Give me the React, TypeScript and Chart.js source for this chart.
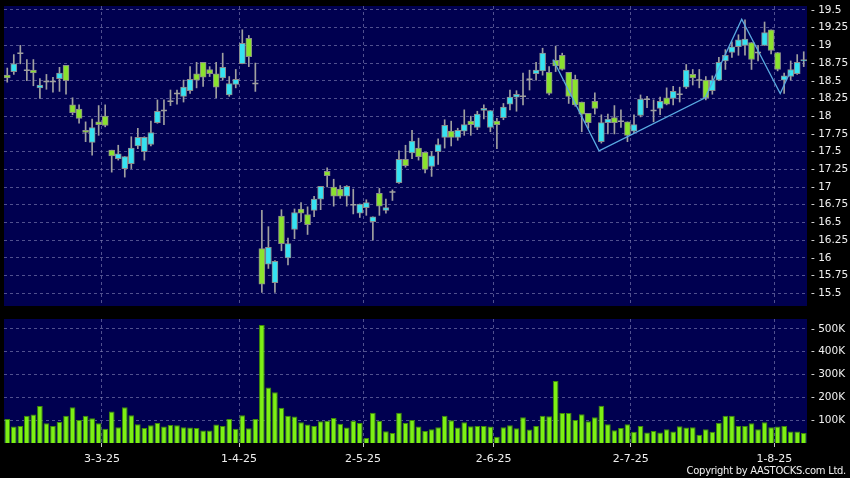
import React, { useEffect, useRef } from "react";
import { Chart, registerables } from "chart.js";

Chart.register(...registerables);

// ---------- data ----------
const dates = [
  "10-2-25","11-2-25","12-2-25","13-2-25","14-2-25","17-2-25","18-2-25","19-2-25","20-2-25","21-2-25","24-2-25","25-2-25","26-2-25","27-2-25","28-2-25",
  "3-3-25","4-3-25","5-3-25","6-3-25","7-3-25","10-3-25","11-3-25","12-3-25","13-3-25","14-3-25","17-3-25","18-3-25","19-3-25","20-3-25","21-3-25","24-3-25","25-3-25","26-3-25","27-3-25","28-3-25","31-3-25",
  "1-4-25","2-4-25","3-4-25","7-4-25","8-4-25","9-4-25","10-4-25","11-4-25","14-4-25","15-4-25","16-4-25","17-4-25","22-4-25","23-4-25","24-4-25","25-4-25","28-4-25","29-4-25","30-4-25",
  "2-5-25","6-5-25","7-5-25","8-5-25","9-5-25","12-5-25","13-5-25","14-5-25","15-5-25","16-5-25","19-5-25","20-5-25","21-5-25","22-5-25","23-5-25","26-5-25","27-5-25","28-5-25","29-5-25","30-5-25",
  "2-6-25","3-6-25","4-6-25","5-6-25","6-6-25","9-6-25","10-6-25","11-6-25","12-6-25","13-6-25","16-6-25","17-6-25","18-6-25","19-6-25","20-6-25","23-6-25","24-6-25","25-6-25","26-6-25","27-6-25","30-6-25",
  "2-7-25","3-7-25","4-7-25","7-7-25","8-7-25","9-7-25","10-7-25","11-7-25","14-7-25","15-7-25","16-7-25","17-7-25","18-7-25","21-7-25","22-7-25","23-7-25","24-7-25","25-7-25","28-7-25","29-7-25","30-7-25","31-7-25",
  "1-8-25","4-8-25","5-8-25","6-8-25","7-8-25",
];

const tickDates = ["3-3-25", "1-4-25", "2-5-25", "2-6-25", "2-7-25", "1-8-25"];

const open = [
  18.58,18.63,18.89,18.65,18.65,18.40,18.49,18.49,18.53,18.72,
  18.16,18.10,17.80,17.63,17.92,18.00,17.52,17.40,17.26,17.33,
  17.58,17.50,17.60,17.91,18.08,18.21,18.32,18.28,18.36,18.60,
  18.76,18.66,18.60,18.54,18.30,18.45,18.74,19.10,18.46,16.13,
  15.91,15.65,16.59,16.00,16.40,16.69,16.61,16.67,16.83,17.22,
  17.00,16.97,16.87,16.75,16.63,16.71,16.51,16.91,16.67,16.93,
  17.06,17.39,17.48,17.55,17.49,17.29,17.50,17.70,17.79,17.70,
  17.79,17.93,17.84,18.08,17.84,17.93,17.98,18.17,18.27,18.28,
  18.52,18.60,18.64,18.62,18.79,18.86,18.62,18.52,18.20,18.04,
  18.21,17.64,17.91,17.98,17.93,17.92,17.79,18.01,18.24,18.08,
  18.11,18.26,18.25,18.31,18.41,18.59,18.51,18.51,18.36,18.51,
  18.78,18.90,18.98,19.00,19.04,18.90,19.00,19.22,18.90,18.51,
  18.56,18.60,18.78,
];

const high = [
  18.68,18.87,19.00,18.80,18.80,18.53,18.59,18.55,18.69,18.72,
  18.26,18.16,17.92,17.96,18.15,18.16,17.52,17.59,17.43,17.71,
  17.83,17.71,17.93,18.23,18.23,18.37,18.37,18.51,18.70,18.76,
  18.76,18.70,18.76,18.89,18.56,18.66,19.22,19.14,18.75,16.67,
  16.44,15.96,16.68,16.28,16.69,16.78,16.72,16.87,17.01,17.27,
  17.11,17.02,17.02,16.97,16.76,16.82,16.58,16.98,16.83,16.96,
  17.51,17.59,17.80,17.69,17.49,17.50,17.68,17.95,17.93,17.83,
  18.09,18.00,18.07,18.16,18.08,17.97,18.18,18.37,18.36,18.61,
  18.65,18.76,18.96,18.70,18.99,18.89,18.62,18.58,18.20,18.04,
  18.33,18.02,18.03,18.15,18.09,17.92,18.02,18.30,18.28,18.23,
  18.27,18.40,18.42,18.41,18.73,18.66,18.66,18.56,18.57,18.83,
  18.94,19.05,19.15,19.36,19.04,19.00,19.33,19.22,18.90,18.61,
  18.78,18.87,18.91,
];

const low = [
  18.48,18.59,18.74,18.50,18.43,18.25,18.38,18.34,18.35,18.31,
  18.02,17.90,17.64,17.45,17.73,17.85,17.21,17.38,17.14,17.26,
  17.54,17.38,17.58,17.90,17.88,18.15,18.17,18.20,18.32,18.40,
  18.42,18.56,18.26,18.51,18.28,18.40,18.74,18.70,18.35,15.51,
  15.85,15.51,16.10,15.90,16.27,16.51,16.33,16.58,16.68,17.00,
  16.73,16.84,16.73,16.62,16.57,16.60,16.25,16.60,16.63,16.81,
  17.05,17.28,17.40,17.38,17.20,17.15,17.32,17.55,17.58,17.66,
  17.73,17.73,17.81,17.96,17.78,17.54,17.95,18.09,18.07,18.16,
  18.37,18.51,18.58,18.30,18.63,18.65,18.18,18.14,17.78,17.83,
  18.03,17.62,17.75,17.75,17.84,17.64,17.76,17.99,18.12,17.92,
  18.02,18.16,18.16,18.20,18.39,18.44,18.40,18.23,18.31,18.50,
  18.66,18.83,18.86,18.86,18.66,18.78,19.00,18.88,18.64,18.32,
  18.51,18.59,18.70,
];

const close = [
  18.54,18.74,18.89,18.65,18.61,18.44,18.49,18.49,18.61,18.50,
  18.05,17.97,17.77,17.84,17.88,17.87,17.44,17.47,17.43,17.55,
  17.70,17.70,17.77,18.07,18.08,18.21,18.32,18.41,18.52,18.51,
  18.55,18.60,18.41,18.69,18.46,18.52,19.03,18.84,18.46,15.63,
  16.15,15.95,16.20,16.20,16.64,16.63,16.47,16.83,17.01,17.16,
  16.87,16.87,17.01,16.75,16.76,16.78,16.58,16.73,16.71,16.93,
  17.39,17.30,17.65,17.43,17.25,17.44,17.60,17.87,17.70,17.80,
  17.88,17.88,18.03,18.11,18.08,17.88,18.13,18.27,18.31,18.28,
  18.52,18.65,18.89,18.32,18.71,18.66,18.28,18.16,18.03,17.91,
  18.11,17.91,17.96,17.91,17.93,17.73,17.88,18.24,18.24,18.08,
  18.21,18.17,18.35,18.31,18.65,18.54,18.51,18.26,18.51,18.76,
  18.86,18.98,19.08,19.09,18.80,18.90,19.18,18.93,18.66,18.57,
  18.66,18.76,18.80,
];

const volume = [
  105000,72000,75000,119000,125000,162000,87000,75000,92000,120000,
  157000,101000,120000,108000,87000,62000,138000,69000,157000,122000,
  82000,66000,78000,88000,72000,79000,78000,69000,68000,66000,
  55000,55000,81000,75000,105000,62000,122000,65000,105000,517000,
  243000,222000,154000,119000,116000,91000,81000,75000,95000,98000,
  110000,84000,68000,98000,88000,22000,133000,97000,52000,44000,
  133000,88000,101000,72000,53000,60000,69000,119000,100000,68000,
  91000,73000,75000,75000,72000,27000,69000,78000,65000,113000,
  59000,75000,120000,117000,272000,132000,132000,101000,126000,95000,
  113000,163000,82000,56000,66000,82000,49000,75000,46000,53000,
  46000,60000,50000,73000,68000,69000,36000,60000,49000,89000,
  119000,119000,75000,75000,87000,60000,91000,69000,72000,75000,
  50000,50000,44000,
];

// zigzag overlay: position in trading-day index units, and price
const zigzagIndex = [83.6, 90.65, 106.9, 112.5, 118.4, 119.9];
const zigzagPrice = [18.8, 17.51, 18.26, 19.37, 18.32, 18.62];

const priceMin = 15.32;
const priceMax = 19.556;
const volumeMax = 543600;
const volumeTicks = [100000, 200000, 300000, 400000, 500000];

// ---------- styles ----------
const NAVY = "#000050";
const GRID = "rgba(135,135,185,0.6)";
const CYAN = "#35e2f2";
const GREEN = "#8ae22e";
const GRAY = "#a0a0a0";
const BODY_BORDER = "#8c8c8c";
const VOL = "#7df014";
const VOL_BORDER = "#3f8c08";
const ZIG = "#58a8e0";
const TEXT = "#f0f0f0";
const FONT = "'DejaVu Sans', 'Noto Sans', sans-serif";

const isMonthStart = (i: number) => tickDates.includes(dates[i]);

const bgPlugin = {
  id: "navyArea",
  beforeDraw(chart: any) {
    const { ctx, chartArea: a } = chart;
    ctx.save();
    ctx.fillStyle = NAVY;
    ctx.fillRect(a.left, a.top, a.right - a.left, a.bottom - a.top);
    ctx.restore();
  },
};

const monthGridColor = (ctx: any) =>
  ctx.tick && isMonthStart(ctx.index) ? GRID : "transparent";
const monthTickColor = (ctx: any) =>
  ctx.tick && isMonthStart(ctx.index) ? "#c8c8c8" : "transparent";

const fitRightAxis = (s: any) => {
  s.width = 43;
  s.paddingTop = 0;
  s.paddingBottom = 0;
};

export default function App() {
  const priceRef = useRef<HTMLCanvasElement | null>(null);
  const volRef = useRef<HTMLCanvasElement | null>(null);

  useEffect(() => {
    const wicks = low.map((l, i) => [l, high[i]]);
    const bodies = open.map((o, i) => (o === close[i] ? null : [o, close[i]]));
    const bodyColors = open.map((o, i) =>
      close[i] > o ? CYAN : close[i] < o ? GREEN : GRAY
    );
    const dojis = open.map((o, i) => (o === close[i] ? close[i] : null));
    // pre-parsed points: x is the (fractional) category index on the x scale
    const zig = zigzagIndex.map((x, i) => ({ x, y: zigzagPrice[i] }));

    const priceChart = new Chart(priceRef.current as HTMLCanvasElement, {
      type: "bar",
      data: {
        labels: dates,
        datasets: [
          {
            type: "bar",
            data: wicks as any,
            backgroundColor: GRAY,
            borderWidth: 0,
            barThickness: 1,
            grouped: false,
            order: 3,
          } as any,
          {
            type: "bar",
            data: bodies as any,
            backgroundColor: bodyColors,
            borderColor: BODY_BORDER,
            borderWidth: 1,
            borderSkipped: false,
            barThickness: 6,
            grouped: false,
            order: 2,
          } as any,
          {
            type: "line",
            data: dojis as any,
            showLine: false,
            pointStyle: "line",
            pointRadius: 3,
            pointBorderColor: GRAY,
            pointBorderWidth: 1.5,
            order: 1,
          } as any,
          {
            type: "line",
            parsing: false,
            data: zig as any,
            borderColor: ZIG,
            borderWidth: 1.3,
            pointRadius: 0,
            tension: 0,
            order: 0,
          } as any,
        ],
      },
      options: {
        animation: false,
        responsive: false,
        events: [],
        layout: { autoPadding: false, padding: { left: 4, top: 6, bottom: 4, right: 0 } },
        plugins: { legend: { display: false }, tooltip: { enabled: false } },
        scales: {
          x: {
            type: "category",
            offset: true,
            grid: { offset: true, color: monthGridColor, drawTicks: false },
            border: { display: false, dash: [3, 3] },
            ticks: { display: false, autoSkip: false },
            afterFit: (s: any) => {
              s.height = 0;
              s.paddingLeft = 0;
              s.paddingRight = 0;
            },
          },
          y: {
            type: "linear",
            position: "right",
            min: priceMin,
            max: priceMax,
            afterFit: fitRightAxis,
            grid: { color: GRID, drawTicks: false },
            border: { display: false, dash: [3, 3] },
            ticks: {
              stepSize: 0.25,
              includeBounds: false,
              color: TEXT,
              padding: 4,
              font: { family: FONT, size: 10.5 },
              callback: (v: any) => "- " + Math.round(Number(v) * 100) / 100,
            },
          },
        } as any,
      },
      plugins: [bgPlugin],
    });

    const volChart = new Chart(volRef.current as HTMLCanvasElement, {
      type: "bar",
      data: {
        labels: dates,
        datasets: [
          {
            data: volume,
            backgroundColor: VOL,
            borderColor: VOL_BORDER,
            borderWidth: 1,
            barPercentage: 0.87,
            categoryPercentage: 1,
          },
        ],
      },
      options: {
        animation: false,
        responsive: false,
        events: [],
        layout: { autoPadding: false, padding: { left: 4, top: 9, bottom: 0, right: 0 } },
        plugins: { legend: { display: false }, tooltip: { enabled: false } },
        scales: {
          x: {
            type: "category",
            offset: true,
            grid: {
              offset: true,
              color: monthGridColor,
              tickColor: monthTickColor,
              tickLength: 4,
              drawTicks: true,
            },
            border: { display: false, dash: [3, 3] },
            ticks: {
              autoSkip: false,
              maxRotation: 0,
              minRotation: 0,
              color: TEXT,
              padding: 6,
              labelOffset: -3.26,
              font: { family: FONT, size: 11 },
              callback: (_v: any, i: number) => (isMonthStart(i) ? dates[i] : ""),
            },
            afterFit: (s: any) => {
              s.height = 35;
              s.paddingLeft = 0;
              s.paddingRight = 0;
            },
          },
          y: {
            type: "linear",
            position: "right",
            min: 0,
            max: volumeMax,
            afterFit: fitRightAxis,
            afterBuildTicks: (s: any) => {
              s.ticks = volumeTicks.map((v) => ({ value: v }));
            },
            grid: { color: GRID, drawTicks: false },
            border: { display: false, dash: [3, 3] },
            ticks: {
              color: TEXT,
              padding: 4,
              font: { family: FONT, size: 10.5 },
              callback: (v: any) => "- " + Number(v) / 1000 + "K",
            },
          },
        } as any,
      },
      plugins: [bgPlugin],
    });

    return () => {
      priceChart.destroy();
      volChart.destroy();
    };
  }, []);

  return (
    <div
      style={{
        position: "fixed",
        left: 0,
        top: 0,
        width: 850,
        height: 478,
        background: "#000",
        overflow: "hidden",
      }}
    >
      <canvas
        ref={priceRef}
        width={850}
        height={310}
        style={{ position: "absolute", left: 0, top: 0, display: "block" }}
      />
      <canvas
        ref={volRef}
        width={850}
        height={168}
        style={{ position: "absolute", left: 0, top: 310, display: "block" }}
      />
      <div
        style={{
          position: "absolute",
          right: 4,
          top: 465,
          fontFamily: FONT,
          fontSize: 10,
          letterSpacing: "-0.3px",
          lineHeight: "12px",
          color: TEXT,
          whiteSpace: "nowrap",
        }}
      >
        Copyright by AASTOCKS.com Ltd.
      </div>
    </div>
  );
}
